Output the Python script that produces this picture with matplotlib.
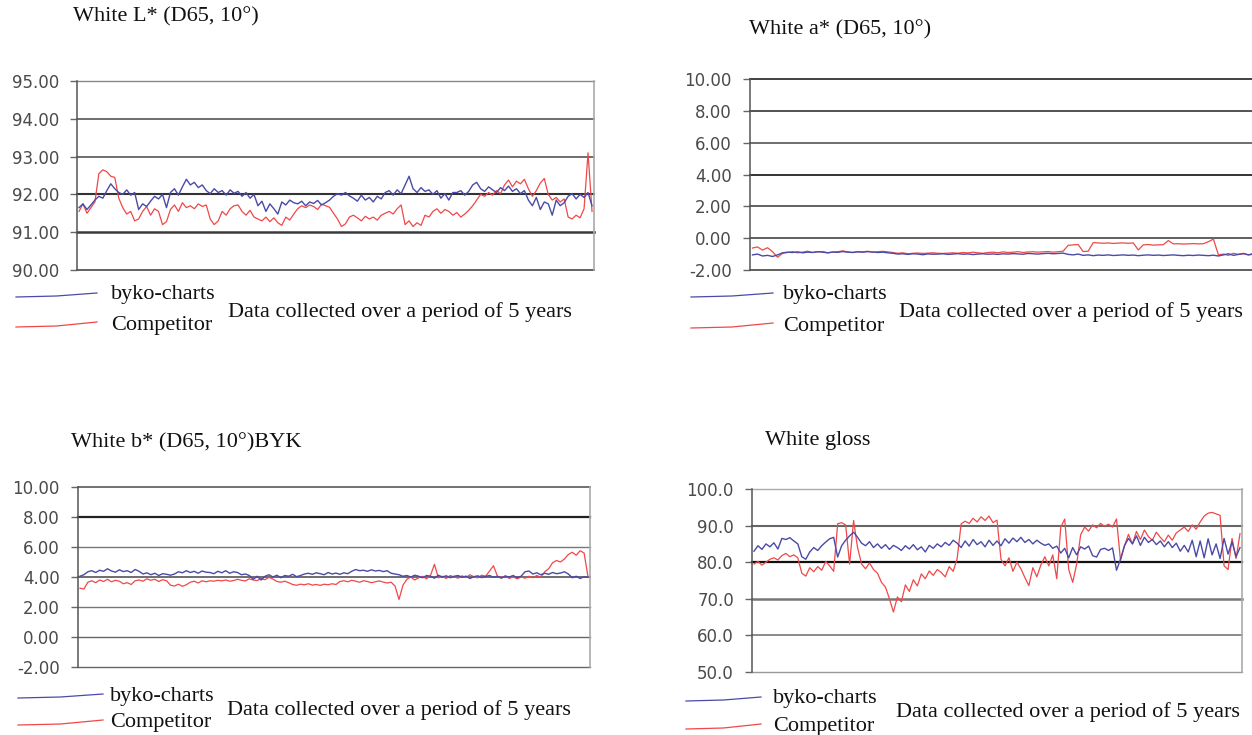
import matplotlib
matplotlib.use("Agg")
import matplotlib.pyplot as plt
from matplotlib.lines import Line2D

# ---- data ----
titles = ["White L* (D65, 10°)", "White a* (D65, 10°)",
          "White b* (D65, 10°)BYK", "White gloss"]
series_names = ["byko-charts", "Competitor"]
note = "Data collected over a period of 5 years"

L_ticks = [90.0, 91.0, 92.0, 93.0, 94.0, 95.0]
a_ticks = [-2.0, 0.0, 2.0, 4.0, 6.0, 8.0, 10.0]
b_ticks = [-2.0, 0.0, 2.0, 4.0, 6.0, 8.0, 10.0]
gloss_ticks = [50.0, 60.0, 70.0, 80.0, 90.0, 100.0]

L_byko = [91.65, 91.75, 91.60, 91.72, 91.85, 91.95, 91.90, 92.10, 92.28, 92.15,
          92.05, 92.00, 92.12, 91.98, 92.05, 91.60, 91.75, 91.68, 91.82, 91.95,
          91.88, 92.00, 91.65, 92.05, 92.15, 91.98, 92.20, 92.40, 92.25, 92.32,
          92.18, 92.25, 92.10, 92.02, 92.15, 92.05, 92.10, 91.98, 92.12, 92.03,
          92.08, 91.95, 92.05, 91.90, 92.00, 91.70, 91.82, 91.55, 91.75, 91.62,
          91.48, 91.80, 91.72, 91.85, 91.78, 91.75, 91.82, 91.70, 91.80, 91.76,
          91.84, 91.72, 91.78, 91.85, 91.95, 92.02, 91.98, 92.05, 91.96, 91.90,
          91.82, 91.98, 91.85, 91.92, 91.80, 91.95, 91.88, 92.05, 92.10, 91.98,
          92.12, 92.02, 92.25, 92.48, 92.15, 92.05, 92.18, 92.08, 92.12, 92.00,
          92.10, 91.90, 92.02, 91.85, 92.05, 92.05, 92.10, 91.98, 92.08, 92.25,
          92.32, 92.15, 92.08, 92.20, 92.12, 92.05, 92.18, 92.10, 92.22, 92.08,
          92.15, 92.02, 92.10, 91.85, 91.70, 91.92, 91.60, 91.80, 91.75, 91.45,
          91.85, 91.70, 91.78, 91.95, 92.02, 91.88, 92.00, 91.92, 92.05, 91.70]
L_comp = [91.55, 91.75, 91.50, 91.65, 91.80, 92.55, 92.65, 92.60, 92.48, 92.45,
          91.90, 91.65, 91.48, 91.55, 91.30, 91.35, 91.55, 91.68, 91.45, 91.62,
          91.55, 91.20, 91.28, 91.60, 91.72, 91.55, 91.78, 91.65, 91.70, 91.62,
          91.75, 91.68, 91.72, 91.35, 91.20, 91.30, 91.55, 91.45, 91.62, 91.70,
          91.72, 91.55, 91.45, 91.58, 91.40, 91.35, 91.30, 91.40, 91.28, 91.38,
          91.25, 91.18, 91.40, 91.32, 91.48, 91.62, 91.70, 91.65, 91.72, 91.68,
          91.60, 91.74, 91.70, 91.66, 91.50, 91.35, 91.15, 91.22, 91.40, 91.45,
          91.38, 91.30, 91.42, 91.35, 91.40, 91.32, 91.45, 91.50, 91.55, 91.48,
          91.62, 91.72, 91.20, 91.30, 91.15, 91.25, 91.18, 91.45, 91.40, 91.55,
          91.62, 91.50, 91.60, 91.55, 91.45, 91.52, 91.40, 91.48, 91.58, 91.70,
          91.85, 92.00, 91.95, 92.05, 91.98, 92.10, 92.02, 92.25, 92.38, 92.20,
          92.35, 92.28, 92.40, 92.15, 91.95, 92.10, 92.30, 92.42, 92.00, 91.85,
          91.92, 91.80, 91.88, 91.40, 91.35, 91.45, 91.38, 91.62, 93.10, 91.55]

a_byko = [-1.05, -1.00, -1.12, -1.08, -1.15, -1.05,
          -0.92, -0.88, -0.90, -0.86, -0.92, -0.88, -0.90, -0.85, -0.88, -0.92,
          -0.87, -0.89, -0.84, -0.88, -0.90, -0.86, -0.88, -0.85, -0.87, -0.90,
          -0.88, -0.92, -0.95, -1.00, -0.98, -1.02, -0.98, -1.00, -1.04, -0.99,
          -1.01, -1.00,
          -0.98, -1.02, -1.00, -0.97, -1.01, -0.99, -1.03, -1.00, -0.98, -1.01,
          -0.99, -1.02, -0.98, -1.00, -0.97, -0.99, -1.01, -0.96, -0.98, -1.00,
          -0.97, -0.95, -0.98, -0.96, -0.94,
          -1.02, -1.05, -1.00, -1.08, -1.05, -1.10, -1.06, -1.08, -1.05, -1.09,
          -1.07, -1.05, -1.08, -1.06, -1.10, -1.07, -1.05, -1.08, -1.06, -1.09,
          -1.07, -1.05, -1.08, -1.10, -1.07, -1.09, -1.06, -1.08, -1.10, -1.07,
          -1.12, -1.05, -0.98, -1.08, -1.02, -0.96, -1.05, -1.00]
a_comp = [-0.62, -0.55, -0.75, -0.60, -0.85, -1.20,
          -0.95, -0.90, -0.85, -0.92, -0.88,
          -0.82, -0.90, -0.86, -0.84, -0.92, -0.88, -0.85, -0.80, -0.86, -0.90,
          -0.84, -0.86, -0.82, -0.88, -0.85, -0.83, -0.86, -0.90, -0.95, -0.92,
          -0.98, -0.95, -0.93, -0.96, -0.94, -0.92, -0.95,
          -0.96, -0.94, -0.92, -0.95, -0.90, -0.93, -0.88, -0.92, -0.95, -0.90,
          -0.88, -0.92, -0.86, -0.90, -0.88, -0.85, -0.90, -0.87, -0.85, -0.88,
          -0.86, -0.84, -0.88, -0.85, -0.82,
          -0.45, -0.42, -0.40, -0.84, -0.82,
          -0.28, -0.30, -0.32, -0.30, -0.33, -0.31, -0.30, -0.32, -0.30,
          -0.74, -0.42, -0.40, -0.44, -0.42, -0.41, -0.15,
          -0.36, -0.35, -0.37, -0.36, -0.34, -0.36, -0.35, -0.22, -0.06,
          -1.05, -1.00, -1.08, -0.95, -1.02, -0.98, -1.05, -0.95]

b_byko = [4.05, 4.15, 4.35, 4.42, 4.30, 4.45, 4.38, 4.55, 4.40, 4.32,
          4.48, 4.36, 4.42, 4.30, 4.50, 4.38, 4.20, 4.28, 4.15, 4.25,
          4.10, 4.22, 4.18, 4.12, 4.20, 4.35, 4.28, 4.42, 4.30, 4.38,
          4.25, 4.40, 4.32, 4.30, 4.22, 4.38, 4.28, 4.42, 4.25, 4.35,
          4.30, 4.15, 4.20, 4.10, 3.85, 4.05, 3.80, 4.05, 4.15, 4.00,
          4.12, 3.95, 4.10, 4.05, 4.18, 4.02, 4.10, 4.20, 4.25, 4.18,
          4.28, 4.22, 4.15, 4.30, 4.20, 4.26, 4.18, 4.28, 4.22, 4.38,
          4.50, 4.42, 4.45, 4.38, 4.48, 4.40, 4.44, 4.36, 4.42, 4.25,
          4.20, 4.15, 4.05, 4.10, 4.00, 4.12, 4.05, 3.95, 4.10, 4.05,
          3.92, 4.12, 4.00, 4.08, 3.95, 4.05, 4.10, 3.98, 4.06, 3.90,
          4.02, 4.08, 3.96, 4.04, 4.10, 3.98, 4.05, 3.92, 4.06, 4.00,
          4.10, 3.95, 4.05, 4.35, 4.40, 4.20, 4.28, 4.15, 4.25, 4.18,
          4.30, 4.22, 4.26, 4.35, 4.20, 3.95, 4.05, 3.90, 4.02, 3.98]
b_comp = [3.25, 3.20, 3.65, 3.75, 3.62, 3.80, 3.70, 3.85, 3.68, 3.78,
          3.72, 3.55, 3.62, 3.50, 3.75, 3.80, 3.72, 3.88, 3.78, 3.85,
          3.70, 3.82, 3.75, 3.45, 3.40, 3.52, 3.38, 3.48, 3.65, 3.72,
          3.60, 3.75, 3.68, 3.75, 3.72, 3.78, 3.74, 3.80, 3.72, 3.76,
          3.85, 3.78, 3.74, 3.88, 3.80, 3.76, 3.90, 3.82, 3.98, 3.86,
          3.70, 3.65, 3.72, 3.62, 3.50, 3.45, 3.52, 3.48, 3.55, 3.46,
          3.50, 3.44, 3.52, 3.48, 3.55, 3.50, 3.70, 3.75, 3.68, 3.78,
          3.72, 3.65, 3.75, 3.70, 3.62, 3.68, 3.74, 3.66, 3.60, 3.65,
          3.40, 2.50, 3.45, 3.85, 4.00, 3.80, 3.95, 4.05, 3.88, 4.10,
          4.85, 3.95, 4.05, 3.90, 4.10, 4.00, 3.92, 4.08, 3.96, 4.15,
          4.02, 3.94, 4.12, 4.05, 4.40, 4.75, 4.05, 3.95, 4.08, 3.90,
          4.02, 3.88, 4.00, 3.92, 4.05, 3.95, 4.10, 3.98, 4.35, 4.55,
          4.95, 5.10, 5.00, 5.20, 5.50, 5.65, 5.45, 5.75, 5.60, 4.00]

gloss_byko = [83.0, 84.5, 83.5, 85.0, 84.2, 85.3, 83.6, 86.5, 86.2, 86.7,
              85.8, 85.0, 81.5, 80.8, 82.8, 84.0, 83.2, 84.5, 85.5, 86.4,
              86.8, 81.4, 84.5, 86.0, 87.2, 88.2, 86.8, 85.2, 84.5, 85.6,
              84.0, 85.0, 83.8, 84.8, 83.5, 84.6, 84.0, 83.2, 84.5, 83.6,
              84.8, 83.4, 84.2, 82.8, 84.6, 83.8, 85.0, 84.2, 85.4, 84.6,
              86.0, 85.2, 84.0, 85.8, 84.4, 86.2, 84.8, 85.6, 84.2, 86.0,
              84.6, 85.8, 84.5, 86.4, 85.2, 86.6, 85.6, 86.8, 85.4, 86.2,
              85.0, 86.0, 85.2, 84.6, 85.0, 83.8, 84.4, 82.5, 83.8, 81.2,
              84.0, 82.0, 84.2, 83.6, 84.4, 81.8, 81.4, 83.5, 83.8, 83.2,
              83.9, 77.8, 80.8, 84.5, 86.5, 85.0, 87.2, 84.6, 86.8, 85.4,
              86.2, 84.8, 85.8, 84.2, 85.6, 84.0, 85.2, 83.0, 84.6, 82.8,
              86.0, 81.5, 85.8, 81.2, 86.4, 82.0, 85.0, 81.0, 86.5, 82.2,
              85.6, 81.5, 84.0]
gloss_comp = [79.5, 80.2, 79.2, 80.0, 80.8, 81.2, 80.6, 81.8, 82.4, 81.5,
              82.0, 81.2, 77.0, 76.2, 78.5, 77.4, 78.8, 77.8, 80.2, 79.0,
              77.5, 90.5, 90.8, 90.2, 79.5, 91.4, 84.0, 79.5, 78.2, 79.8,
              78.0, 77.0, 74.5, 73.2, 70.0, 66.4, 70.5, 69.2, 73.8, 72.0,
              75.2, 73.5, 76.8, 75.5, 77.6, 76.4, 78.0, 77.2, 76.0, 78.8,
              77.5, 81.0, 90.5, 91.2, 90.6, 92.0, 91.0, 92.4, 91.4, 92.6,
              90.8, 91.5, 80.8, 79.0, 81.2, 77.5, 80.0, 78.2, 75.8, 73.6,
              78.5, 76.0, 79.2, 81.5, 79.0, 82.0, 75.5, 89.5, 91.8, 78.0,
              74.5, 79.5, 87.5, 89.6, 88.5, 90.2, 89.4, 90.6, 89.8, 90.4,
              89.6, 91.8, 80.5, 84.5, 87.6, 85.0, 88.4, 86.2, 88.8, 87.0,
              86.0, 88.2, 86.8, 85.6, 87.4, 86.0, 88.0, 88.8, 89.6, 88.4,
              90.2, 89.0, 91.0, 92.6, 93.4, 93.6, 93.2, 92.8, 79.0, 78.0,
              86.5, 81.0, 87.8]

W, H = 1252, 735
BLUE = "#4a4aa8"
RED = "#f04848"
TITLE_FONT = "Liberation Serif"
TICK_FONT = "DejaVu Sans"
TEXT_SIZE = 16

fig = plt.figure(figsize=(W / 100, H / 100), dpi=100)
fig.patch.set_facecolor("white")


def px_axes(l, t, r, b):
    return fig.add_axes([l / W, 1 - b / H, (r - l) / W, (b - t) / H])


def draw_panel(box, title, title_xy, ticks, fmt, byko, comp, grid_style,
               legend, right_spine=True):
    ax = px_axes(*box)
    n = len(byko)
    ax.plot(range(n), comp, color=RED, lw=0.9, zorder=3)
    ax.plot(range(n), byko, color=BLUE, lw=1.0, zorder=4)
    ax.set_xlim(-0.5, n - 0.5)
    ax.set_ylim(ticks[0], ticks[-1])
    ax.set_yticks(ticks)
    ax.set_yticklabels([fmt % t for t in ticks])
    ax.set_xticks([])
    for t, (c, w) in zip(ticks, grid_style):
        ax.axhline(t, color=c, lw=w, zorder=2, clip_on=False)
    ax.tick_params(axis="y", length=5, width=1, color="#666666", pad=8,
                   labelsize=12, labelcolor="#4a4a4a")
    for lab in ax.get_yticklabels():
        lab.set_family(TICK_FONT)
    ax.spines["top"].set_visible(False)
    ax.spines["bottom"].set_visible(False)
    ax.spines["left"].set_color("#555555")
    ax.spines["left"].set_linewidth(1.1)
    ax.spines["right"].set_color("#aaaaaa")
    ax.spines["right"].set_linewidth(1.2)
    ax.spines["right"].set_visible(right_spine)

    fig.text(title_xy[0] / W, 1 - title_xy[1] / H, title, family=TITLE_FONT,
             fontsize=TEXT_SIZE, color="#111111", va="center", ha="left")

    (lx0, lx1, yb, yc, tx, nx, ny) = legend
    fig.add_artist(Line2D([lx0 / W, (lx0 + lx1) / 2 / W, lx1 / W],
                          [1 - (yb + 2) / H, 1 - (yb + 1) / H, 1 - (yb - 2) / H],
                          color=BLUE, lw=0.9))
    fig.add_artist(Line2D([lx0 / W, (lx0 + lx1) / 2 / W, lx1 / W],
                          [1 - (yc + 2) / H, 1 - (yc + 1) / H, 1 - (yc - 3) / H],
                          color=RED, lw=0.9))
    fig.text(tx / W, 1 - yb / H, series_names[0], family=TITLE_FONT,
             fontsize=TEXT_SIZE, color="#111111", va="center", ha="left")
    fig.text(tx / W, 1 - yc / H, series_names[1], family=TITLE_FONT,
             fontsize=TEXT_SIZE, color="#111111", va="center", ha="left")
    fig.text(nx / W, 1 - ny / H, note, family=TITLE_FONT,
             fontsize=TEXT_SIZE, color="#111111", va="center", ha="left")
    return ax


grid_L = [("#555555", 1.3), ("#3a3a3a", 1.8), ("#333333", 1.5),
          ("#555555", 1.2), ("#555555", 1.2), ("#888888", 1.0)]
grid_a = [("#444444", 1.2), ("#444444", 1.2), ("#555555", 1.3),
          ("#333333", 1.4), ("#555555", 1.2), ("#444444", 1.3), ("#333333", 1.3)]
grid_b = [("#666666", 1.0), ("#666666", 1.0), ("#777777", 1.0),
          ("#555555", 1.2), ("#777777", 1.0), ("#222222", 1.6), ("#666666", 1.3)]
grid_g = [("#999999", 1.0), ("#777777", 1.2), ("#777777", 1.8),
          ("#111111", 1.6), ("#666666", 1.5), ("#aaaaaa", 1.0)]

draw_panel((77, 81, 594, 270), titles[0], (73, 17), L_ticks, "%.2f",
           L_byko, L_comp, grid_L, (16, 97, 295, 325, 111, 228, 312))
draw_panel((750, 79, 1256, 270), titles[1], (749, 30), a_ticks, "%.2f",
           a_byko, a_comp, grid_a, (691, 773, 295, 326, 783, 899, 312),
           right_spine=False)
draw_panel((78, 487, 590, 667), titles[2], (71, 443), b_ticks, "%.2f",
           b_byko, b_comp, grid_b, (18, 103, 696, 723, 110, 227, 710))
draw_panel((752, 489, 1242, 672), titles[3], (765, 440), gloss_ticks, "%.1f",
           gloss_byko, gloss_comp, grid_g, (686, 761, 699, 727, 773, 896, 712))

fig.savefig("out.png", dpi=100, facecolor="white")
